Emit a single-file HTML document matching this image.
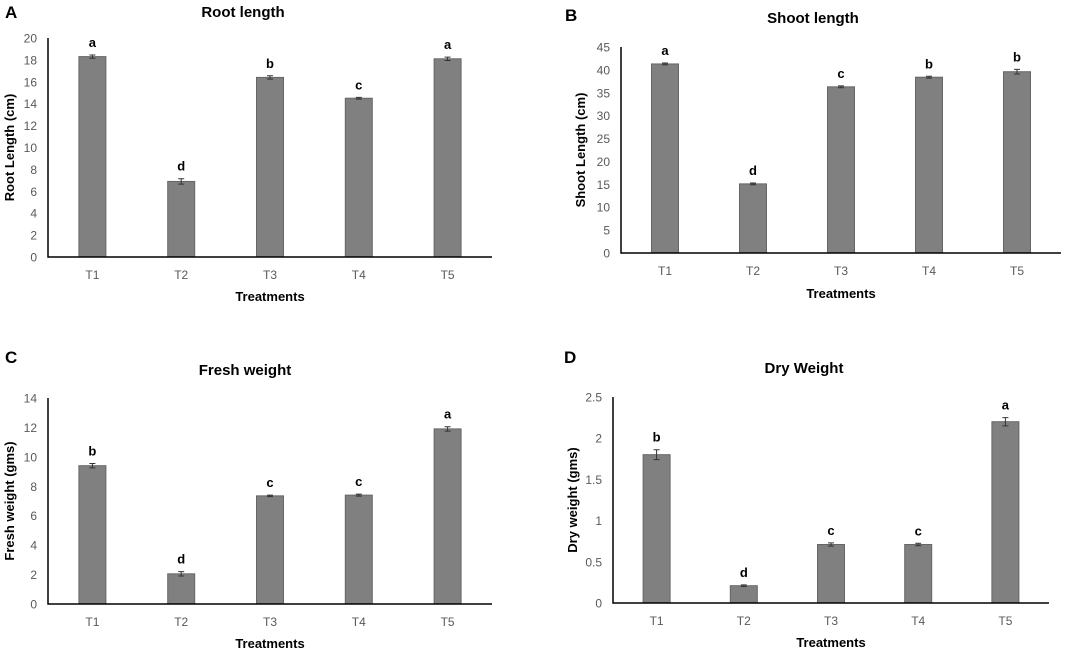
<!DOCTYPE html>
<html><head><meta charset="utf-8">
<style>
html,body{margin:0;padding:0;background:#fff;}
svg{display:block;font-family:"Liberation Sans",Arial,sans-serif;}
</style></head>
<body>
<svg id="fig" width="1084" height="653" viewBox="0 0 1084 653"></svg>
<script>
const categories = ["T1","T2","T3","T4","T5"];
const rootValues = [18.3, 6.9, 16.4, 14.5, 18.1];
const rootErrors = [0.15, 0.25, 0.15, 0.08, 0.15];
const rootLetters = ["a","d","b","c","a"];
const rootTicks = [0,2,4,6,8,10,12,14,16,18,20];
const shootValues = [41.3, 15.1, 36.3, 38.4, 39.6];
const shootErrors = [0.2, 0.2, 0.2, 0.2, 0.5];
const shootLetters = ["a","d","c","b","b"];
const shootTicks = [0,5,10,15,20,25,30,35,40,45];
const freshValues = [9.4, 2.05, 7.35, 7.4, 11.9];
const freshErrors = [0.15, 0.15, 0.05, 0.07, 0.15];
const freshLetters = ["b","d","c","c","a"];
const freshTicks = [0,2,4,6,8,10,12,14];
const dryValues = [1.8, 0.21, 0.71, 0.71, 2.2];
const dryErrors = [0.06, 0.01, 0.02, 0.015, 0.05];
const dryLetters = ["b","d","c","c","a"];
const dryTicks = ["0","0.5","1","1.5","2","2.5"];

const NS = "http://www.w3.org/2000/svg";
const svg = document.getElementById("fig");
function mk(tag, attrs, parent, text){
  const e = document.createElementNS(NS, tag);
  for (const k in attrs) e.setAttribute(k, attrs[k]);
  if (text !== undefined) e.textContent = text;
  (parent || svg).appendChild(e);
  return e;
}

function panel(cfg){
  const g = mk("g", {});
  
  
  const ticks = cfg.ticks.map(Number);
  const maxV = ticks[ticks.length-1];
  const y = v => cfg.y0 - (v / maxV) * (cfg.y0 - cfg.yTop);
  const band = (cfg.x1 - cfg.x0) / categories.length;
  const xc = i => cfg.x0 + band * (i + 0.5);

  const pl = mk("text", {x: cfg.labelX, y: cfg.labelY, "font-size": 17, "font-weight": "bold", fill: "#000"}, g, cfg.letter);
  
  
  const t = mk("text", {x: cfg.titleX, y: cfg.titleY, "font-size": 15, "font-weight": "bold", "text-anchor": "middle", fill: "#000"}, g, cfg.title);
  
  

  cfg.ticks.forEach(tk => {
    const e = mk("text", {x: cfg.x0 - 11, y: y(Number(tk)) + 4.5, "font-size": 12, "text-anchor": "end", fill: "#595959"}, g, String(tk));
    
    
  });

  categories.forEach((c, i) => {
    const v = cfg.values[i], er = cfg.errors[i];
    const bw = 27;
    const b = mk("rect", {x: xc(i) - bw/2, y: y(v), width: bw, height: cfg.y0 - y(v), fill: "#808080", stroke: "#666", "stroke-width": 1}, g);
    
    
    const eb = mk("path", {d: `M${xc(i)-3},${y(v+er)}H${xc(i)+3}M${xc(i)},${y(v+er)}V${y(v-er)}M${xc(i)-3},${y(v-er)}H${xc(i)+3}`, stroke: "#333", "stroke-width": 1, fill: "none"}, g);
    
    
    const l = mk("text", {x: xc(i), y: y(v + er) - 8, "font-size": 13, "font-weight": "bold", "text-anchor": "middle", fill: "#000"}, g, cfg.letters[i]);
    
    
    const xl = mk("text", {x: xc(i), y: cfg.y0 + 22, "font-size": 12, "text-anchor": "middle", fill: "#595959"}, g, c);
    
    
  });

  const ax = mk("path", {d: `M${cfg.x0},${cfg.yTop}V${cfg.y0}H${cfg.x1}`, stroke: "#000", "stroke-width": 1.5, fill: "none"}, g);
  
  

  const xt = mk("text", {x: (cfg.x0 + cfg.x1)/2, y: cfg.xTitleY, "font-size": 13, "font-weight": "bold", "text-anchor": "middle", fill: "#000"}, g, "Treatments");
  
  
  const cy = (cfg.y0 + cfg.yTop)/2;
  const yt = mk("text", {x: cfg.yTitleX, y: cy, "font-size": 13, "font-weight": "bold", "text-anchor": "middle", fill: "#000", transform: `rotate(-90 ${cfg.yTitleX} ${cy})`}, g, cfg.yTitle);
  
  
}

panel({id:"root", letter:"A", labelX:5, labelY:18, title:"Root length", titleX:243, titleY:17,
  x0:48, x1:492, y0:257, yTop:38, ticks:rootTicks, values:rootValues, errors:rootErrors, letters:rootLetters,
  xTitleY:301, yTitleX:14, yTitle:"Root Length (cm)"});
panel({id:"shoot", letter:"B", labelX:565, labelY:21, title:"Shoot length", titleX:813, titleY:23,
  x0:621, x1:1061, y0:253, yTop:47, ticks:shootTicks, values:shootValues, errors:shootErrors, letters:shootLetters,
  xTitleY:298, yTitleX:585, yTitle:"Shoot Length (cm)"});
panel({id:"fresh", letter:"C", labelX:5, labelY:363, title:"Fresh weight", titleX:245, titleY:375,
  x0:48, x1:492, y0:604, yTop:398, ticks:freshTicks, values:freshValues, errors:freshErrors, letters:freshLetters,
  xTitleY:648, yTitleX:14, yTitle:"Fresh weight (gms)"});
panel({id:"dry", letter:"D", labelX:564, labelY:363, title:"Dry Weight", titleX:804, titleY:373,
  x0:613, x1:1049, y0:603, yTop:397, ticks:dryTicks, values:dryValues, errors:dryErrors, letters:dryLetters,
  xTitleY:647, yTitleX:577, yTitle:"Dry weight (gms)"});
</script>
</body></html>
